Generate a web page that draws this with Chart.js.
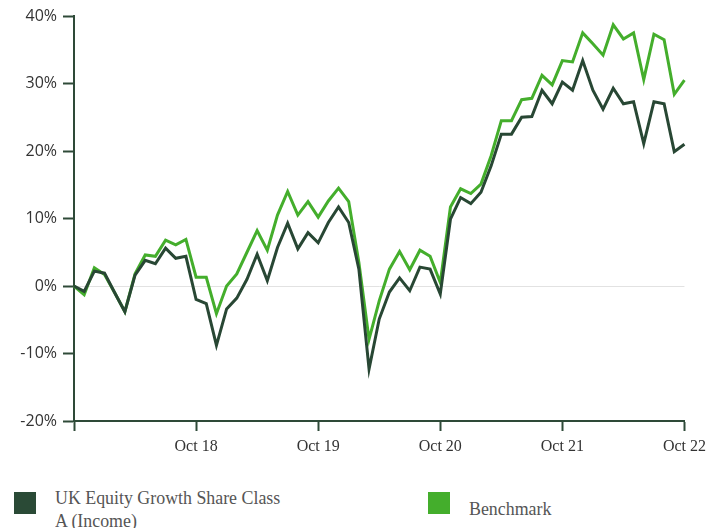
<!DOCTYPE html>
<html>
<head>
<meta charset="utf-8">
<script src="https://cdn.jsdelivr.net/npm/chart.js@4"></script>
<style>
    body { margin: 0; background: #fff; }
    #wrap { position: relative; width: 712px; height: 528px; }
    #chart { position: absolute; left: 0; top: 0; }
    .legend { position: absolute; top: 486px; font-family: "Liberation Serif", serif; font-size: 19px; color: #555; line-height: 23px; }
    .legend .box { position: absolute; left: 0; top: 6px; width: 22px; height: 22px; }
    .legend .txt { position: absolute; left: 41px; top: 0; white-space: nowrap; transform: scaleX(0.94); transform-origin: left top; }
</style>
</head>
<body>
<div id="wrap">
    <canvas id="chart" width="712" height="470"></canvas>
    <div class="legend" style="left:14px"><div class="box" style="background:#2a4a36"></div><div class="txt">UK Equity Growth Share Class<br>A (Income)</div></div>
    <div class="legend" style="left:428px"><div class="box" style="background:#44ae2c"></div><div class="txt" style="top:11px">Benchmark</div></div>
</div>
<script>
// monthly, Oct 17 -> Oct 22
const yearLabels = ["", "Oct 18", "Oct 19", "Oct 20", "Oct 21", "Oct 22"];
const fundName = "UK Equity Growth Share Class A (Income)";
const benchName = "Benchmark";

const fund = [0, -0.8, 2.2, 1.9, -1.0, -3.8, 1.6, 3.8, 3.3, 5.6, 4.1, 4.4,
    -2.0, -2.6, -8.8, -3.4, -1.8, 1.0, 4.7, 0.8, 5.7, 9.3, 5.5, 7.9, 6.4,
    9.4, 11.7, 9.4, 2.5, -12.3, -4.9, -0.9, 1.2, -0.7, 2.8, 2.5, -1.2,
    9.9, 13.1, 12.2, 13.9, 17.8, 22.5, 22.5, 25.0, 25.1, 29.0, 27.0, 30.2,
    29.0, 33.4, 29.0, 26.2, 29.3, 27.0, 27.3, 21.1, 27.3, 27.0, 19.9, 21.0];
const bench = [0, -1.3, 2.7, 1.7, -1.0, -3.8, 1.8, 4.6, 4.4, 6.8, 6.1, 6.9,
    1.3, 1.3, -4.1, 0.0, 1.8, 5.0, 8.2, 5.3, 10.5, 14.0, 10.5, 12.5, 10.2,
    12.6, 14.5, 12.5, 3.5, -7.9, -2.2, 2.5, 5.1, 2.4, 5.3, 4.4, 0.5,
    11.7, 14.4, 13.7, 15.1, 19.3, 24.5, 24.5, 27.6, 27.8, 31.2, 29.8, 33.4,
    33.2, 37.5, 35.9, 34.2, 38.7, 36.6, 37.5, 30.6, 37.3, 36.5, 28.4, 30.5];

const monthNames = ["Oct", "Nov", "Dec", "Jan", "Feb", "Mar", "Apr", "May", "Jun", "Jul", "Aug", "Sep"];
let labels = [];
for (let i = 0; i < fund.length; i++) {
    let yr = 17 + Math.floor((i + 9) / 12);
    labels.push(monthNames[i % 12] + " " + yr);
}

const axisColor = "#2e4a38";

const ctx = document.getElementById("chart").getContext('2d');
const chart = new Chart(ctx, {
    type: 'line',
    data: {
        labels: labels,
        datasets: [
            {
                label: fundName,
                data: fund,
                borderColor: "#284734",
                backgroundColor: "#284734",
                borderWidth: 3,
                pointRadius: 0,
                tension: 0
            },
            {
                label: benchName,
                data: bench,
                borderColor: "#44ae2c",
                backgroundColor: "#44ae2c",
                borderWidth: 3,
                pointRadius: 0,
                tension: 0
            }
        ]
    },
    options: {
        responsive: false,
        animation: false,
        layout: { padding: { top: 16, right: 26, left: 0, bottom: 0 } },
        plugins: {
            legend: { display: false },
            tooltip: { enabled: false }
        },
        scales: {
            x: {
                offset: false,
                grid: { drawOnChartArea: false, drawTicks: true, tickLength: 10, tickColor: axisColor, tickWidth: 2 },
                border: { color: axisColor, width: 2 },
                ticks: {
                    autoSkip: false,
                    maxRotation: 0,
                    padding: 6,
                    color: "#333",
                    font: { family: "'Liberation Serif', serif", size: 16 },
                    callback: (v, i) => (i % 12 === 0 ? yearLabels[i / 12] : null)
                },
                afterFit: s => { s.height = 49; }
            },
            y: {
                min: -20,
                max: 40,
                grid: {
                    color: c => (c.tick && c.tick.value === 0 ? "#e2e2e2" : "transparent"),
                    tickColor: axisColor,
                    tickLength: 11,
                    tickWidth: 2
                },
                border: { color: axisColor, width: 2 },
                ticks: {
                    stepSize: 10,
                    padding: 6,
                    color: "#333",
                    font: { family: "'Open Sans', sans-serif", size: 16 },
                    callback: v => v + "%"
                },
                afterFit: s => { s.width = 74; }
            }
        }
    }
});
</script>
</body>
</html>
